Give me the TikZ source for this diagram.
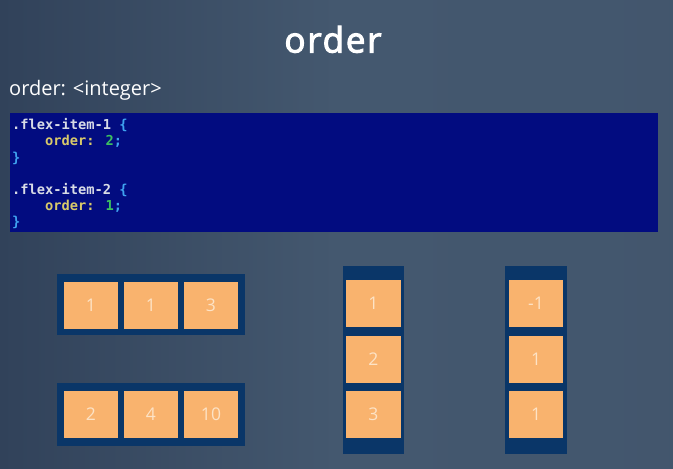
\documentclass[tikz,border=0pt]{standalone}
\usepackage{fontspec}
\setmainfont{Open Sans}
\newfontfamily\codefont{DejaVu Sans Mono}
\newfontfamily\titlefont{Open Sans}[FakeBold=3, LetterSpace=5]
\definecolor{bgA}{HTML}{31425A}
\definecolor{bgB}{HTML}{44586F}
\definecolor{codebg}{HTML}{020C80}
\definecolor{cont}{HTML}{0A3668}
\definecolor{itemfill}{HTML}{F9B36E}
\definecolor{itemtext}{HTML}{FDE3C6}
\definecolor{ctext}{HTML}{D8DCE6}
\definecolor{cblue}{HTML}{3FA2F0}
\definecolor{cyellow}{HTML}{D8C96A}
\definecolor{cgreen}{HTML}{3CC060}
\tikzset{
  container/.style={fill=cont, draw=none},
  item/.style={fill=itemfill, draw=none},
  itemlabel/.style={text=itemtext, font=\fontsize{17.5}{20}\selectfont, inner sep=0pt},
  codeline/.style={anchor=west, inner sep=0pt, font=\codefont\bfseries\fontsize{13.7}{15}\selectfont, text=ctext},
}
\newcommand{\itembox}[6]{\path[item] (#2,#3) rectangle (#4,#5); \node[itemlabel] (#1) at ({(#2+#4)/2},{(#3+#5)/2}) {#6};}
\begin{document}
\begin{tikzpicture}[x=1pt,y=-1pt]
\useasboundingbox (0,0) rectangle (673,469);
\shade[left color=bgA, right color=bgB!92!bgA, middle color=bgB] (0,0) rectangle (673,469);
\node[text=white, font=\titlefont\fontsize{35}{40}\selectfont, anchor=base, inner sep=0pt] (title) at (333,52.5) {order};
\node[text=white, font=\fontsize{20}{22}\selectfont, anchor=base west, inner sep=0pt] (sub) at (9,95) {order: <integer>};
\path[fill=codebg] (10,113) rectangle (658,232);
\node[codeline] (l1) at (12,125.5) {.flex-item-1 \textcolor{cblue}{\{}};
\node[codeline] (l2) at (12,141.7) {\phantom{xxxx}\textcolor{cyellow}{order:} \textcolor{cgreen}{2}\textcolor{cblue}{;}};
\node[codeline] (l3) at (12,158.3) {\textcolor{cblue}{\}}};
\node[codeline] (l4) at (12,190) {.flex-item-2 \textcolor{cblue}{\{}};
\node[codeline] (l5) at (12,206) {\phantom{xxxx}\textcolor{cyellow}{order:} \textcolor{cgreen}{1}\textcolor{cblue}{;}};
\node[codeline] (l6) at (12,222.5) {\textcolor{cblue}{\}}};
% row containers
\path[container] (57,274) rectangle (245,335);
\itembox{a1}{64}{282}{118}{329}{1}
\itembox{a2}{124}{282}{178}{329}{1}
\itembox{a3}{184}{282}{238}{329}{3}
\path[container] (57,383) rectangle (245,446);
\itembox{b1}{64}{391}{118}{438}{2}
\itembox{b2}{124}{391}{178}{438}{4}
\itembox{b3}{184}{391}{238}{438}{10}
% column containers
\path[container] (343,266) rectangle (404,454);
\itembox{c1}{346}{280}{401}{327}{1}
\itembox{c2}{346}{336}{401}{383}{2}
\itembox{c3}{346}{391}{401}{438}{3}
\path[container] (505,266) rectangle (567,454);
\itembox{d1}{509}{280}{563}{327}{-1}
\itembox{d2}{509}{336}{563}{383}{1}
\itembox{d3}{509}{391}{563}{438}{1}
\end{tikzpicture}
\end{document}
